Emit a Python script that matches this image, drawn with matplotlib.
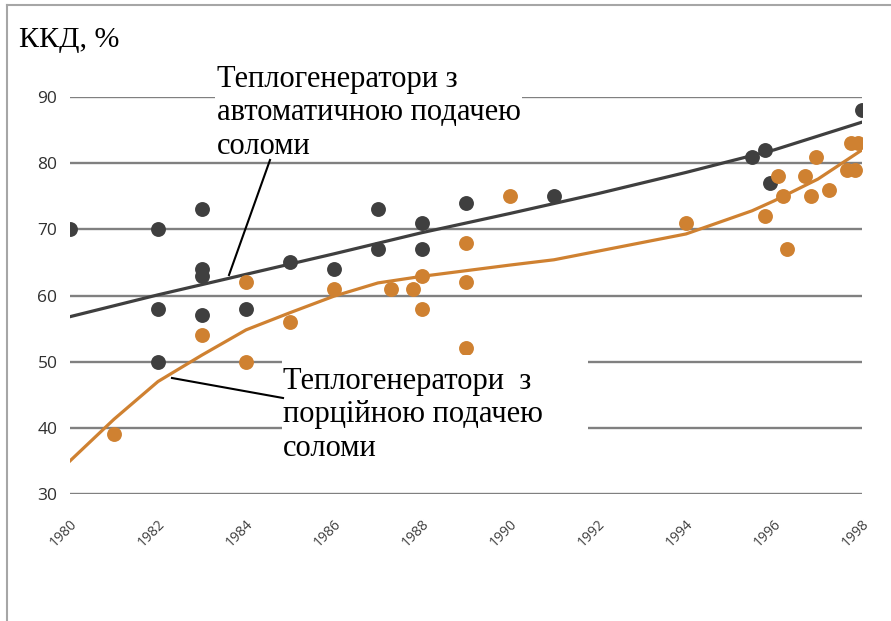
import matplotlib.pyplot as plt
from matplotlib.patches import Rectangle
from matplotlib.lines import Line2D

# scatter data, automatic feed (dark) and batch feed (orange)
dark_years = [1980, 1982, 1982, 1982, 1983, 1983, 1983, 1983, 1984, 1985, 1986,
              1987, 1987, 1988, 1988, 1989, 1991, 1995.5, 1995.8, 1995.9, 1998]
dark_vals = [70, 70, 58, 50, 73, 64, 63, 57, 58, 65, 64,
             73, 67, 71, 67, 74, 75, 81, 82, 77, 88]

orange_years = [1981, 1983, 1984, 1984, 1985, 1986, 1987.3, 1987.8, 1988, 1988,
                1989, 1989, 1989, 1990, 1994, 1995.8, 1996.1, 1996.2, 1996.3,
                1996.7, 1996.85, 1996.95, 1997.25, 1997.65, 1997.75, 1997.85, 1997.9]
orange_vals = [39, 54, 62, 50, 56, 61, 61, 61, 63, 58,
               68, 62, 52, 75, 71, 72, 78, 75, 67,
               78, 75, 81, 76, 79, 83, 79, 83]

# trend lines
dark_trend_x = [1980, 1982, 1984, 1986, 1988, 1990, 1992, 1994, 1996, 1998]
dark_trend_y = [56.8, 60.1, 63.2, 66.3, 69.5, 72.4, 75.4, 78.6, 82.0, 86.2]
orange_trend_x = [1980, 1981, 1982, 1983, 1984, 1985, 1986, 1987, 1988, 1990,
                  1991, 1994, 1995.5, 1996, 1997, 1998]
orange_trend_y = [35.0, 41.3, 47.0, 51.0, 54.8, 57.4, 59.9, 61.9, 62.9, 64.6,
                  65.4, 69.3, 72.8, 74.3, 77.6, 82.0]

x_ticks = list(range(1980, 1999, 2))
y_ticks = [30, 40, 50, 60, 70, 80, 90]

dark = '#3f3f3f'
orange = '#cf8131'
W, H = 891, 621

fig = plt.figure(figsize=(8.91, 6.21), dpi=100)
ax = fig.add_axes([70 / W, 1 - 494 / H, 792 / W, 397 / H])

ax.set_xlim(1980, 1998)
ax.set_ylim(30, 90)
ax.set_yticks(y_ticks)
ax.set_xticks(x_ticks)
ax.set_xticklabels([str(x) for x in x_ticks], rotation=45, ha='right',
                   rotation_mode='anchor', fontsize=10, color='#404040',
                   family='Open Sans')
ax.set_yticklabels([str(y) for y in y_ticks], fontsize=12.5, color='#303030',
                   family='Open Sans')
ax.tick_params(length=0)
ax.tick_params(axis='y', pad=9)
ax.tick_params(axis='x', pad=16)
for s in ax.spines.values():
    s.set_visible(False)
ax.grid(axis='y', color='#808080', linewidth=1.7)
ax.set_axisbelow(True)

ax.plot(dark_trend_x, dark_trend_y, color=dark, linewidth=2.3, zorder=2)
ax.plot(orange_trend_x, orange_trend_y, color=orange, linewidth=2.3, zorder=2)
ax.scatter(dark_years, dark_vals, s=115, color=dark, linewidths=0, zorder=3)
ax.scatter(orange_years, orange_vals, s=115, color=orange, linewidths=0, zorder=3)

# white text boxes hiding grid lines
fig.add_artist(Rectangle((215 / W, 1 - 158 / H), 307 / W, 100 / H,
                         transform=fig.transFigure, facecolor='white',
                         edgecolor='none', zorder=5))
fig.add_artist(Rectangle((282 / W, 1 - 462 / H), 306 / W, 107 / H,
                         transform=fig.transFigure, facecolor='white',
                         edgecolor='none', zorder=5))

serif = 'Liberation Serif'
fig.text(19 / W, 1 - 27 / H, 'ККД, %', fontsize=21.5, family=serif,
         va='top', ha='left', zorder=6)
fig.text(217 / W, 1 - 65 / H, 'Теплогенератори з\nавтоматичною подачею\nсоломи',
         fontsize=22, family=serif, va='top', ha='left', linespacing=1.2, zorder=6)
fig.text(283 / W, 1 - 367 / H, 'Теплогенератори  з\nпорційною подачею\nсоломи',
         fontsize=22, family=serif, va='top', ha='left', linespacing=1.2, zorder=6)

# leader lines
fig.add_artist(Line2D([270 / W, 229 / W], [1 - 160 / H, 1 - 275 / H],
                      transform=fig.transFigure, color='black', linewidth=1.5, zorder=6))
fig.add_artist(Line2D([172 / W, 283 / W], [1 - 378 / H, 1 - 398 / H],
                      transform=fig.transFigure, color='black', linewidth=1.5, zorder=6))

# outer frame (top and left only)
fig.add_artist(Line2D([7 / W, 1], [1 - 5 / H, 1 - 5 / H], transform=fig.transFigure,
                      color='#a6a6a6', linewidth=1.5, zorder=6))
fig.add_artist(Line2D([7 / W, 7 / W], [0, 1 - 5 / H], transform=fig.transFigure,
                      color='#a6a6a6', linewidth=1.5, zorder=6))

fig.savefig('out.png', dpi=100)
